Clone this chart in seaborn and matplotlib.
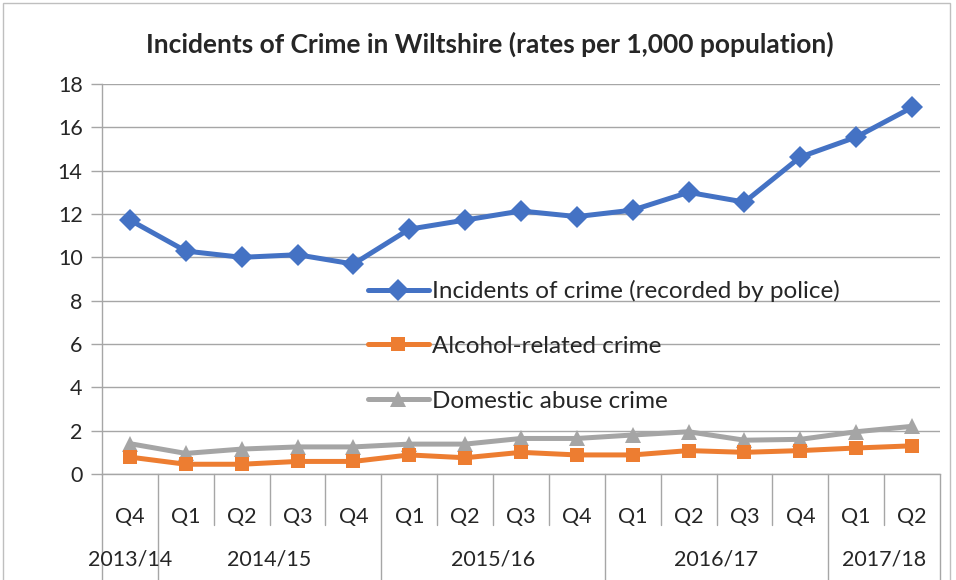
import matplotlib
matplotlib.use("Agg")
import matplotlib.pyplot as plt
import matplotlib.transforms as mtransforms
from matplotlib.patches import Rectangle
import seaborn as sns
import numpy as np
import pandas as pd

# ---- data ----
quarters = ["Q4", "Q1", "Q2", "Q3", "Q4", "Q1", "Q2", "Q3", "Q4",
            "Q1", "Q2", "Q3", "Q4", "Q1", "Q2"]
years = ["2013/14", "2014/15", "2015/16", "2016/17", "2017/18"]
year_counts = [1, 4, 4, 4, 2]
incidents = [11.72, 10.29, 10.0, 10.12, 9.69, 11.3, 11.72, 12.14, 11.88,
             12.18, 13.0, 12.55, 14.63, 15.55, 16.92]
alcohol = [0.78, 0.45, 0.45, 0.58, 0.58, 0.88, 0.75, 1.0, 0.88,
           0.88, 1.08, 1.0, 1.08, 1.2, 1.3]
domestic = [1.4, 0.95, 1.15, 1.25, 1.25, 1.38, 1.38, 1.64, 1.64,
            1.8, 1.95, 1.56, 1.6, 1.95, 2.2]
series_names = ["Incidents of crime (recorded by police)",
                "Alcohol-related crime", "Domestic abuse crime"]
y_ticks = [0, 2, 4, 6, 8, 10, 12, 14, 16, 18]
title = "Incidents of Crime in Wiltshire (rates per 1,000 population)"

sns.set_theme(style="white")
plt.rcParams["font.family"] = ["Lato", "DejaVu Sans"]

W, H = 956, 580
fig = plt.figure(figsize=(W / 100, H / 100), dpi=100)
left, right, bottom, top = 102, 940, 474, 84
ax = fig.add_axes([left / W, 1 - bottom / H, (right - left) / W, (bottom - top) / H])

pos = np.arange(len(quarters))
df = pd.DataFrame({"pos": pos, "inc": incidents, "alc": alcohol, "dom": domestic})

blue, orange, gray = "#4472C4", "#ED7D31", "#A5A5A5"
sns.lineplot(data=df, x="pos", y="inc", ax=ax, color=blue, lw=3.6, marker="D",
             markersize=11, markeredgewidth=0, label=series_names[0], zorder=5)
sns.lineplot(data=df, x="pos", y="alc", ax=ax, color=orange, lw=3.6, marker="s",
             markersize=10.5, markeredgewidth=0, label=series_names[1], zorder=4)
sns.lineplot(data=df, x="pos", y="dom", ax=ax, color=gray, lw=3.6, marker="^",
             markersize=12, markeredgewidth=0, label=series_names[2], zorder=3)

ax.set_xlim(-0.5, len(quarters) - 0.5)
ax.set_ylim(0, 18)
ax.set_yticks(y_ticks)
ax.set_yticklabels([str(t) for t in y_ticks], fontsize=15.5, color="#262626")
ax.yaxis.grid(True, color="#A6A6A6", lw=1.0)
ax.set_axisbelow(True)
ax.tick_params(axis="y", which="major", length=8, width=1, color="#A6A6A6",
               left=True, pad=6)
ax.set_xlabel("")
ax.set_ylabel("")
for s in ["top", "right"]:
    ax.spines[s].set_visible(False)
ax.spines["left"].set_color("#A6A6A6")
ax.spines["bottom"].set_color("#A6A6A6")
ax.spines["left"].set_linewidth(1)
ax.spines["bottom"].set_linewidth(1)

# multi-level category axis
ax.set_xticks(pos)
ax.set_xticklabels(quarters, fontsize=15.5, color="#262626")
ax.tick_params(axis="x", length=0, pad=24)

trans = mtransforms.blended_transform_factory(ax.transData, ax.transAxes)
ax_h = bottom - top
q_depth = (525 - bottom) / ax_h
y_depth = (582 - bottom) / ax_h
bounds = np.cumsum([0] + year_counts) - 0.5
year_bounds = set(np.round(bounds, 2))
for b in np.arange(-0.5, len(quarters)):
    d = y_depth if round(b, 2) in year_bounds else q_depth
    ax.plot([b, b], [0, -d], transform=trans, color="#A6A6A6", lw=1,
            clip_on=False)
for i, yl in enumerate(years):
    cx = (bounds[i] + bounds[i + 1]) / 2
    ax.text(cx, -(559 - bottom) / ax_h, yl, transform=trans, ha="center",
            va="center", fontsize=15.5, color="#262626")

fig.text((147 + 832) / 2 / W, 1 - 44 / H, title, ha="center", va="center",
         fontsize=19, fontweight="bold", color="#262626")

leg = ax.legend(loc="upper left", bbox_to_anchor=((368 - left) / (right - left), 1 - (280 - top) / ax_h),
                frameon=False, fontsize=17.5, handlelength=2.5, handletextpad=0.15,
                labelspacing=1.39, borderaxespad=0, borderpad=0)
for t in leg.get_texts():
    t.set_color("#262626")

fig.patches.append(Rectangle((3 / W, -0.01), (950 - 3) / W, 1 - 3 / H + 0.01,
                             transform=fig.transFigure, fill=False,
                             edgecolor="#BFBFBF", lw=1))

fig.savefig("out.png", dpi=100)
